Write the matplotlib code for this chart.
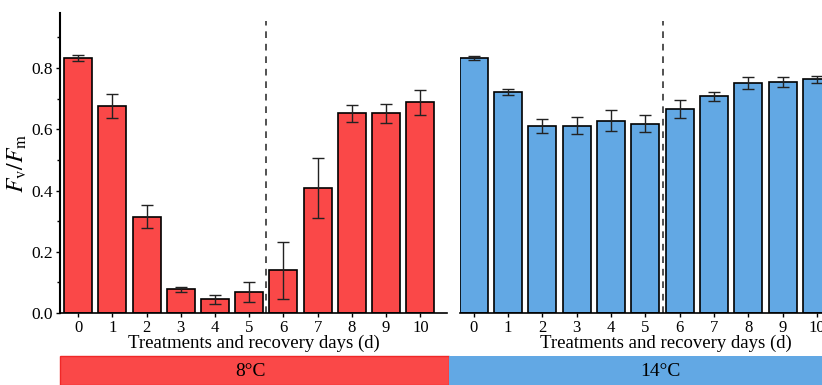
import numpy as np
import matplotlib
matplotlib.use("Agg")
import matplotlib.pyplot as plt
from matplotlib.patches import Rectangle

plt.rcParams['font.family'] = ['Liberation Serif', 'DejaVu Serif']
plt.rcParams['mathtext.fontset'] = 'stix'

days = list(range(11))
day_labels = [str(d) for d in days]

# Fv/Fm means and errors, 8 and 14 degree treatments
fvfm_8 = [0.834, 0.677, 0.315, 0.077, 0.045, 0.068, 0.139, 0.407, 0.652, 0.653, 0.688]
err_8 = [0.010, 0.039, 0.037, 0.008, 0.014, 0.033, 0.094, 0.098, 0.028, 0.031, 0.042]
fvfm_14 = [0.832, 0.722, 0.612, 0.612, 0.628, 0.619, 0.667, 0.708, 0.752, 0.755, 0.763]
err_14 = [0.006, 0.011, 0.023, 0.027, 0.035, 0.027, 0.030, 0.014, 0.020, 0.016, 0.012]

red = '#FA4848'
blue = '#62A8E4'

W, H = 822, 385
fig = plt.figure(figsize=(W/100, H/100), dpi=100)

bottom = (H - 313)/H
height = 300/H
ax1 = fig.add_axes([60/W, bottom, (447-60)/W, height])
ax2 = fig.add_axes([460/W, bottom, (872-460)/W, height])

for ax, vals, errs, col, xl in [(ax1, fvfm_8, err_8, red, (-0.53, 10.78)),
                                (ax2, fvfm_14, err_14, blue, (-0.4, 11.6))]:
    ax.bar(days, vals, width=0.82, color=col, edgecolor='black', linewidth=1.2,
           yerr=errs, capsize=4,
           error_kw=dict(ecolor='#222222', elinewidth=1.0, capthick=1.0))
    ax.set_xlim(*xl)
    ax.set_ylim(0, 0.98)
    ax.set_xticks(days)
    ax.set_xticklabels(day_labels)
    ax.spines['top'].set_visible(False)
    ax.spines['right'].set_visible(False)
    ax.spines['bottom'].set_linewidth(1.2)
    ax.tick_params(axis='x', length=3, width=1, labelsize=12, pad=2)
    ax.set_xlabel('Treatments and recovery days (d)', fontsize=13.5, labelpad=-1)
    ax.axvline(5.5, ymin=0, ymax=0.955/0.98, color='#333333', lw=1.2,
               linestyle=(0, (4, 3.5)))

ax1.spines['left'].set_linewidth(1.5)
ax1.set_yticks([0.0, 0.2, 0.4, 0.6, 0.8])
ax1.set_yticks(np.arange(0.1, 0.95, 0.2), minor=True)
ax1.tick_params(axis='y', which='major', length=3, width=1, labelsize=12.5, pad=2)
ax1.tick_params(axis='y', which='minor', length=2, width=1)
ax1.set_ylabel(r'$F_\mathrm{v}/F_\mathrm{m}$', fontsize=17, labelpad=2)

ax2.spines['left'].set_visible(False)
ax2.set_yticks([])

# temperature bands under the panels
fig.patches.append(Rectangle((60/W, 0), (449-60)/W, (385-356)/H,
                             transform=fig.transFigure, facecolor=red,
                             edgecolor='#F02828', lw=1))
fig.patches.append(Rectangle((449/W, 0), (W-449)/W, (385-356)/H,
                             transform=fig.transFigure, facecolor=blue,
                             edgecolor='none'))
fig.text(250/W, (385-372)/H, '8°C', ha='center', va='center', fontsize=14)
fig.text(660/W, (385-372)/H, '14°C', ha='center', va='center', fontsize=14)

fig.savefig('out.png', dpi=100)
